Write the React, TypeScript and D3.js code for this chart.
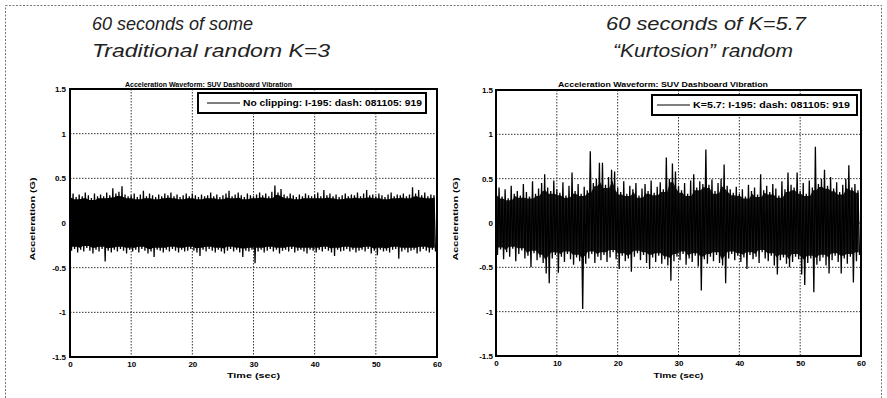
import { useEffect, useRef } from "react";
import * as d3 from "d3";

// axis ticks
const timeTicks = [0, 10, 20, 30, 40, 50, 60];
const accelTicks = [-1.5, -1, -0.5, 0, 0.5, 1, 1.5];
const accelTickLabels = ["-1.5", "-1", "-0.5", "0", "0.5", "1", "1.5"];

// each waveform is stored as its peak envelope: one max and one min per half second
const binSeconds = 0.5;

const leftUpper = [
  0.31, 0.33, 0.29, 0.32, 0.3, 0.34, 0.31, 0.28, 0.33, 0.3,
  0.32, 0.3, 0.34, 0.31, 0.39, 0.33, 0.35, 0.41, 0.32, 0.3,
  0.31, 0.33, 0.29, 0.32, 0.36, 0.3, 0.33, 0.31, 0.29, 0.32,
  0.3, 0.33, 0.31, 0.34, 0.3, 0.32, 0.29, 0.31, 0.33, 0.3,
  0.33, 0.31, 0.29, 0.32, 0.3, 0.31, 0.34, 0.3, 0.32, 0.29,
  0.31, 0.33, 0.36, 0.3, 0.32, 0.34, 0.31, 0.29, 0.33, 0.31,
  0.3, 0.32, 0.34, 0.31, 0.33, 0.3, 0.35, 0.42, 0.34, 0.38,
  0.32, 0.3, 0.33, 0.31, 0.29, 0.32, 0.3, 0.33, 0.31, 0.3,
  0.32, 0.34, 0.3, 0.37, 0.31, 0.33, 0.3, 0.32, 0.29, 0.31,
  0.33, 0.3, 0.32, 0.31, 0.34, 0.3, 0.33, 0.37, 0.31, 0.32,
  0.3, 0.33, 0.31, 0.29, 0.32, 0.34, 0.3, 0.32, 0.31, 0.33,
  0.3, 0.32, 0.4, 0.33, 0.37, 0.31, 0.34, 0.3, 0.32, 0.31,
];

const leftLower = [
  -0.31, -0.29, -0.33, -0.3, -0.32, -0.28, -0.31, -0.34, -0.3, -0.32,
  -0.29, -0.43, -0.31, -0.33, -0.3, -0.32, -0.29, -0.31, -0.34, -0.3,
  -0.32, -0.3, -0.33, -0.29, -0.31, -0.34, -0.32, -0.38, -0.3, -0.31,
  -0.33, -0.3, -0.32, -0.29, -0.31, -0.33, -0.3, -0.32, -0.31, -0.29,
  -0.31, -0.33, -0.37, -0.3, -0.32, -0.29, -0.31, -0.33, -0.3, -0.32,
  -0.34, -0.31, -0.29, -0.32, -0.3, -0.33, -0.38, -0.31, -0.32, -0.3,
  -0.45, -0.32, -0.3, -0.33, -0.31, -0.29, -0.32, -0.3, -0.34, -0.31,
  -0.3, -0.32, -0.29, -0.33, -0.31, -0.3, -0.32, -0.34, -0.3, -0.31,
  -0.33, -0.3, -0.32, -0.29, -0.31, -0.33, -0.37, -0.3, -0.32, -0.31,
  -0.29, -0.32, -0.3, -0.33, -0.31, -0.3, -0.32, -0.29, -0.34, -0.31,
  -0.36, -0.3, -0.32, -0.31, -0.33, -0.3, -0.29, -0.4, -0.32, -0.3,
  -0.33, -0.31, -0.3, -0.34, -0.32, -0.29, -0.31, -0.33, -0.3, -0.32,
];

const rightUpper = [
  0.34, 0.4, 0.3, 0.38, 0.28, 0.42, 0.33, 0.36, 0.31, 0.44,
  0.35, 0.3, 0.47, 0.33, 0.39, 0.45, 0.55, 0.4, 0.36, 0.48,
  0.38, 0.34, 0.46, 0.31, 0.42, 0.57, 0.36, 0.44, 0.33, 0.41,
  0.37, 0.81, 0.45, 0.5, 0.68, 0.68, 0.43, 0.52, 0.6, 0.58,
  0.4, 0.35, 0.47, 0.33, 0.42, 0.38, 0.45, 0.31, 0.39, 0.44,
  0.36, 0.48, 0.34, 0.41, 0.46, 0.38, 0.74, 0.5, 0.67, 0.58,
  0.42, 0.37, 0.45, 0.33, 0.48, 0.55, 0.4, 0.47, 0.44, 0.83,
  0.43, 0.49, 0.36, 0.45, 0.5, 0.66, 0.42, 0.38, 0.34, 0.41,
  0.33, 0.38, 0.3, 0.43, 0.36, 0.4, 0.32, 0.55, 0.37, 0.42,
  0.35, 0.44, 0.39, 0.31, 0.47, 0.38, 0.57, 0.43, 0.4, 0.57,
  0.36, 0.45, 0.33, 0.48, 0.4, 0.86, 0.44, 0.5, 0.6, 0.42,
  0.52, 0.39, 0.46, 0.35, 0.43, 0.5, 0.65, 0.4, 0.44, 0.37,
];

const rightLower = [
  -0.36, -0.3, -0.41, -0.33, -0.38, -0.29, -0.43, -0.35, -0.31, -0.4,
  -0.37, -0.5, -0.34, -0.42, -0.39, -0.45, -0.57, -0.68, -0.4, -0.36,
  -0.56, -0.38, -0.44, -0.35, -0.41, -0.47, -0.39, -0.43, -0.97, -0.46,
  -0.4, -0.35, -0.45, -0.38, -0.42, -0.36, -0.44, -0.39, -0.33, -0.41,
  -0.52, -0.37, -0.43, -0.4, -0.55, -0.38, -0.34, -0.42, -0.36, -0.45,
  -0.52, -0.39, -0.44, -0.37, -0.46, -0.41, -0.48, -0.65, -0.43, -0.38,
  -0.42, -0.35, -0.47, -0.4, -0.44, -0.37, -0.49, -0.76, -0.41, -0.46,
  -0.38, -0.43, -0.36, -0.45, -0.48, -0.68, -0.4, -0.35, -0.42, -0.37,
  -0.44, -0.39, -0.52, -0.36, -0.41, -0.38, -0.45, -0.33, -0.4, -0.43,
  -0.37, -0.48, -0.58, -0.42, -0.39, -0.46, -0.5, -0.44, -0.38, -0.41,
  -0.58, -0.7, -0.45, -0.4, -0.78, -0.47, -0.43, -0.39, -0.48, -0.57,
  -0.42, -0.37, -0.44, -0.57, -0.4, -0.46, -0.38, -0.67, -0.43, -0.36,
];

const captionLines = [
  ["60 seconds of some", "Traditional random K=3"],
  ["60 seconds of K=5.7", "\u201cKurtosion\u201d random"],
];
const chartTitle = "Acceleration Waveform: SUV Dashboard Vibration";
const legendLabels = [
  "No clipping: I-195: dash: 081105: 919",
  "K=5.7: I-195: dash: 081105: 919",
];
const xLabel = "Time (sec)";
const yLabel = "Acceleration (G)";

const W = 887;
const H = 398;
const FONT = "'Liberation Sans', Arial, sans-serif";

// layout of the two panels (pixels)
const panels = [
  {
    upper: leftUpper, lower: leftLower, caption: captionLines[0], legend: legendLabels[0],
    x0: 70, x1: 437, y0: 89, y1: 357,
    capX: [92, 92], capLen: [161, 238],
    titleX: 125, titleLen: 167, yLabX: 35, yTickPad: 4,
    leg: { x: 198, y: 93, w: 228, h: 20, lineX: [207, 240], textLen: 179 },
    xLabLen: 53, fill: "#000",
  },
  {
    upper: rightUpper, lower: rightLower, caption: captionLines[1], legend: legendLabels[1],
    x0: 496, x1: 861, y0: 90, y1: 356,
    capX: [606, 613], capLen: [200, 180],
    titleX: 558, titleLen: 210, yLabX: 458, yTickPad: 3,
    leg: { x: 652, y: 95, w: 205, h: 20, lineX: [657, 690], textLen: 157 },
    xLabLen: 50, fill: "#1a1a1a",
  },
];

export default function App() {
  const svgRef = useRef<SVGSVGElement>(null);

  useEffect(() => {
    const svg = d3.select(svgRef.current);
    svg.selectAll("*").remove();

    svg.append("rect").attr("width", W).attr("height", H).attr("fill", "#fff");

    // dotted outer border of the slide
    svg
      .append("rect")
      .attr("x", 5.5)
      .attr("y", 5.5)
      .attr("width", 876)
      .attr("height", 400)
      .attr("fill", "none")
      .attr("stroke", "#777")
      .attr("stroke-dasharray", "2,1.5");

    panels.forEach((p) => {
      const x = d3.scaleLinear().domain([0, 60]).range([p.x0, p.x1]);
      const y = d3.scaleLinear().domain([-1.5, 1.5]).range([p.y1, p.y0]);
      const g = svg.append("g");

      // captions
      p.caption.forEach((line, i) => {
        g.append("text")
          .attr("x", p.capX[i])
          .attr("y", 30 + i * 27)
          .attr("font-family", FONT)
          .attr("font-style", "italic")
          .attr("font-size", 18)
          .attr("fill", "#222")
          .attr("textLength", p.capLen[i])
          .attr("lengthAdjust", "spacingAndGlyphs")
          .text(line);
      });

      g.append("text")
        .attr("x", p.titleX)
        .attr("y", 87)
        .attr("font-family", FONT)
        .attr("font-weight", "bold")
        .attr("font-size", 7.5)
        .attr("textLength", p.titleLen)
        .attr("lengthAdjust", "spacingAndGlyphs")
        .text(chartTitle);

      // grid
      const grid = g.append("g").attr("stroke", "#333").attr("stroke-dasharray", "1.5,1.5");
      timeTicks.slice(1, -1).forEach((t) => {
        grid.append("line").attr("x1", x(t)).attr("x2", x(t)).attr("y1", p.y0).attr("y2", p.y1);
      });
      accelTicks.slice(1, -1).forEach((v) => {
        grid.append("line").attr("x1", p.x0).attr("x2", p.x1).attr("y1", y(v)).attr("y2", y(v));
      });

      // dense core of the signal: the local minimum of the peak envelope
      const n = p.upper.length;
      const core = d3.range(n).map((i) => {
        const lo = Math.max(0, i - 1);
        const hi = Math.min(n, i + 2);
        return {
          t: i * binSeconds + binSeconds / 4,
          top: d3.min(p.upper.slice(lo, hi)) as number,
          bottom: d3.max(p.lower.slice(lo, hi)) as number,
        };
      });
      const area = d3
        .area<{ t: number; top: number; bottom: number }>()
        .x((d) => x(d.t))
        .y0((d) => y(d.bottom * 0.92))
        .y1((d) => y(d.top * 0.92));
      g.append("path").attr("d", area(core)).attr("fill", p.fill);

      // waveform peaks: alternate between the max and min of each bin
      const pts: [number, number][] = [];
      p.upper.forEach((u, i) => {
        pts.push([i * binSeconds, u]);
        pts.push([i * binSeconds + binSeconds / 2, p.lower[i]]);
      });
      const line = d3
        .line<[number, number]>()
        .x((d) => x(d[0]))
        .y((d) => y(d[1]));
      g.append("path")
        .attr("d", line(pts))
        .attr("fill", "none")
        .attr("stroke", "#000")
        .attr("stroke-width", 1.3);

      // frame
      g.append("rect")
        .attr("x", p.x0)
        .attr("y", p.y0)
        .attr("width", p.x1 - p.x0)
        .attr("height", p.y1 - p.y0)
        .attr("fill", "none")
        .attr("stroke", "#000")
        .attr("stroke-width", 2);

      // axes
      const yAxis = g
        .append("g")
        .attr("transform", `translate(${p.x0},0)`)
        .call(
          d3
            .axisLeft(y)
            .tickValues(accelTicks)
            .tickSize(0)
            .tickPadding(p.yTickPad)
            .tickFormat((_, i) => accelTickLabels[i])
        );
      const xAxis = g
        .append("g")
        .attr("transform", `translate(0,${p.y1})`)
        .call(d3.axisBottom(x).tickValues(timeTicks).tickSize(0).tickPadding(4));
      [yAxis, xAxis].forEach((a) => {
        a.select(".domain").remove();
        a.selectAll("text")
          .attr("font-family", FONT)
          .attr("font-weight", "bold")
          .attr("font-size", 8)
          .attr("fill", "#000");
      });

      g.append("text")
        .attr("x", (p.x0 + p.x1) / 2)
        .attr("y", 378)
        .attr("text-anchor", "middle")
        .attr("font-family", FONT)
        .attr("font-weight", "bold")
        .attr("font-size", 8)
        .attr("textLength", p.xLabLen)
        .attr("lengthAdjust", "spacingAndGlyphs")
        .text(xLabel);

      g.append("text")
        .attr("transform", `translate(${p.yLabX},${(p.y0 + p.y1) / 2 - 4}) rotate(-90)`)
        .attr("text-anchor", "middle")
        .attr("font-family", FONT)
        .attr("font-weight", "bold")
        .attr("font-size", 7.5)
        .attr("textLength", 83)
        .attr("lengthAdjust", "spacingAndGlyphs")
        .text(yLabel);

      // legend
      const lg = g.append("g");
      lg.append("rect")
        .attr("x", p.leg.x)
        .attr("y", p.leg.y)
        .attr("width", p.leg.w)
        .attr("height", p.leg.h)
        .attr("fill", "#fff")
        .attr("stroke", "#000")
        .attr("stroke-width", 2);
      const ly = p.leg.y + p.leg.h / 2;
      lg.append("line")
        .attr("x1", p.leg.lineX[0])
        .attr("x2", p.leg.lineX[1])
        .attr("y1", ly)
        .attr("y2", ly)
        .attr("stroke", "#000")
        .attr("stroke-width", 1);
      lg.append("text")
        .attr("x", p.leg.lineX[1] + 3)
        .attr("y", ly + 3)
        .attr("font-family", FONT)
        .attr("font-weight", "bold")
        .attr("font-size", 8.5)
        .attr("textLength", p.leg.textLen)
        .attr("lengthAdjust", "spacingAndGlyphs")
        .text(p.legend);
    });
  }, []);

  return (
    <svg
      ref={svgRef}
      width={W}
      height={H}
      style={{ position: "absolute", left: 0, top: 0 }}
    />
  );
}
